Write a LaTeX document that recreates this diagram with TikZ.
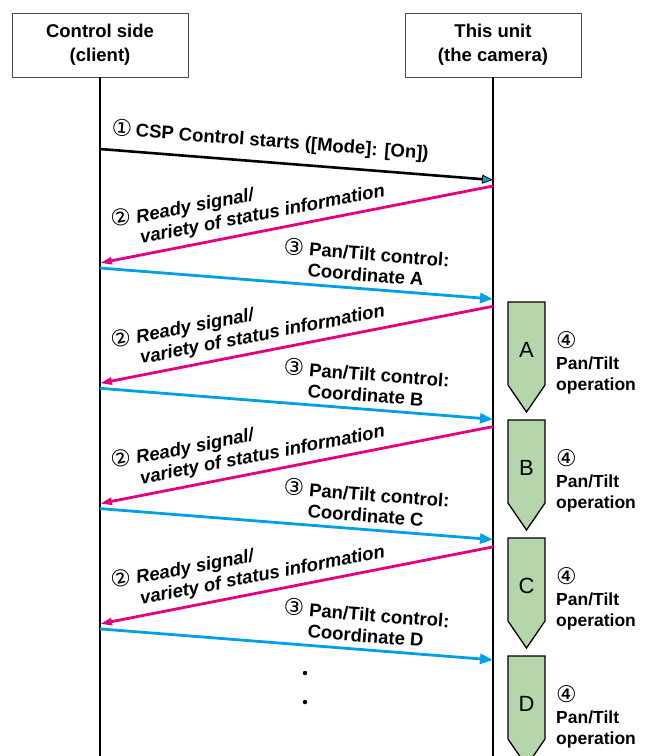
\documentclass[tikz,border=0pt]{standalone}
\usepackage{fontspec}
\setmainfont{Liberation Sans}
\newfontfamily\dvs{DejaVu Sans}
\usetikzlibrary{arrows.meta}
\definecolor{magc}{RGB}{228,0,127}
\definecolor{cyac}{RGB}{0,160,233}
\definecolor{grnc}{RGB}{181,214,170}
\newcommand{\circnum}[1]{{\dvs\mdseries\upshape\fontsize{23}{23}\selectfont #1}}
\begin{document}
\begin{tikzpicture}[x=1pt,y=-1pt,
  font=\fontsize{18.5}{21}\selectfont\bfseries,
  headbox/.style={draw=black!70,line width=0.9pt,fill=white,minimum width=176pt,minimum height=64pt,align=center,inner sep=0pt,font=\fontsize{18.5}{24}\selectfont\bfseries},
  life/.style={line width=1.6pt,black},
  blkarrow/.style={line width=2.6pt,black,-{Triangle[length=11pt,width=9pt,line width=0.8pt,fill=cyac]}},
  magarrow/.style={line width=2.8pt,magc,-{Triangle[length=12pt,width=7pt]}},
  cyaarrow/.style={line width=2.8pt,cyac,-{Triangle[length=13pt,width=10pt]}},
  maglabel/.style={rotate=11,anchor=base west,inner sep=0pt,font=\fontsize{18.5}{21}\selectfont\bfseries\itshape},
  cyalabel/.style={rotate=-4.4,anchor=base west,inner sep=0pt},
  oparrow/.style={draw=black,line width=1.3pt,fill=grnc},
  opletter/.style={font=\fontsize{22}{24}\selectfont\mdseries},
  oplabel/.style={anchor=west,align=left,inner sep=0pt,font=\fontsize{17.5}{21}\selectfont\bfseries},
  dotnode/.style={circle,fill=black,inner sep=0pt,minimum size=4.5pt}
]
\useasboundingbox[fill=white] (0,0) rectangle (654,756);

% heads
\node[headbox] (ctl) at (100,45) {Control side\\(client)};
\node[headbox] (cam) at (493,45) {This unit\\(the camera)};
\coordinate (ctlend) at (100,756);
\coordinate (camend) at (493,756);
\draw[life] (ctl.south) -- (ctlend);
\draw[life] (cam.south) -- (camend);

% step 1
\coordinate (bs) at (100,149);
\coordinate (be) at (493,180);
\draw[blkarrow] (bs) -- (be);
\node[rotate=-4.4,anchor=base west,inner sep=0pt] (bl) at (111,135) {\circnum{①}\hspace{0.2em}CSP Control starts ([Mode]: [On])};

% repeated exchanges
\foreach \i/\L in {0/A,1/B,2/C,3/D}{
  \pgfmathsetmacro{\dy}{120.3*\i}
  \coordinate (ms\i) at (493,{186+\dy});
  \coordinate (me\i) at (100,{263+\dy});
  \coordinate (cs\i) at (100,{268+\dy});
  \coordinate (ce\i) at (493,{299+\dy});
  \draw[magarrow] (ms\i) -- (me\i);
  \draw[cyaarrow] (cs\i) -- (ce\i);
  \node[maglabel] (ml\i) at (112,{228+\dy}) {\circnum{②}\ \begin{tabular}[t]{@{}l@{}}Ready signal/\\variety of status information\end{tabular}};
  \node[cyalabel] (cl\i) at (283,{254+\dy}) {\circnum{③}\ \begin{tabular}[t]{@{}l@{}}Pan/Tilt control:\\Coordinate \L\end{tabular}};
}

% operation arrows
\foreach \i/\L in {0/A,1/B,2/C,3/D}{
  \pgfmathsetmacro{\T}{302+118*\i}
  \draw[oparrow] (508,\T) -- (545,\T) -- (545,{\T+83}) -- (526.5,{\T+110}) -- (508,{\T+83}) -- cycle;
  \node[opletter] (op\L) at (526.5,{\T+48}) {\L};
  \node[oplabel] (ol\L) at (556,{\T+61}) {\circnum{④}\\Pan/Tilt\\operation};
}

% dots
\node[dotnode] (d1) at (305,673) {};
\node[dotnode] (d2) at (305,702) {};
\end{tikzpicture}
\end{document}
